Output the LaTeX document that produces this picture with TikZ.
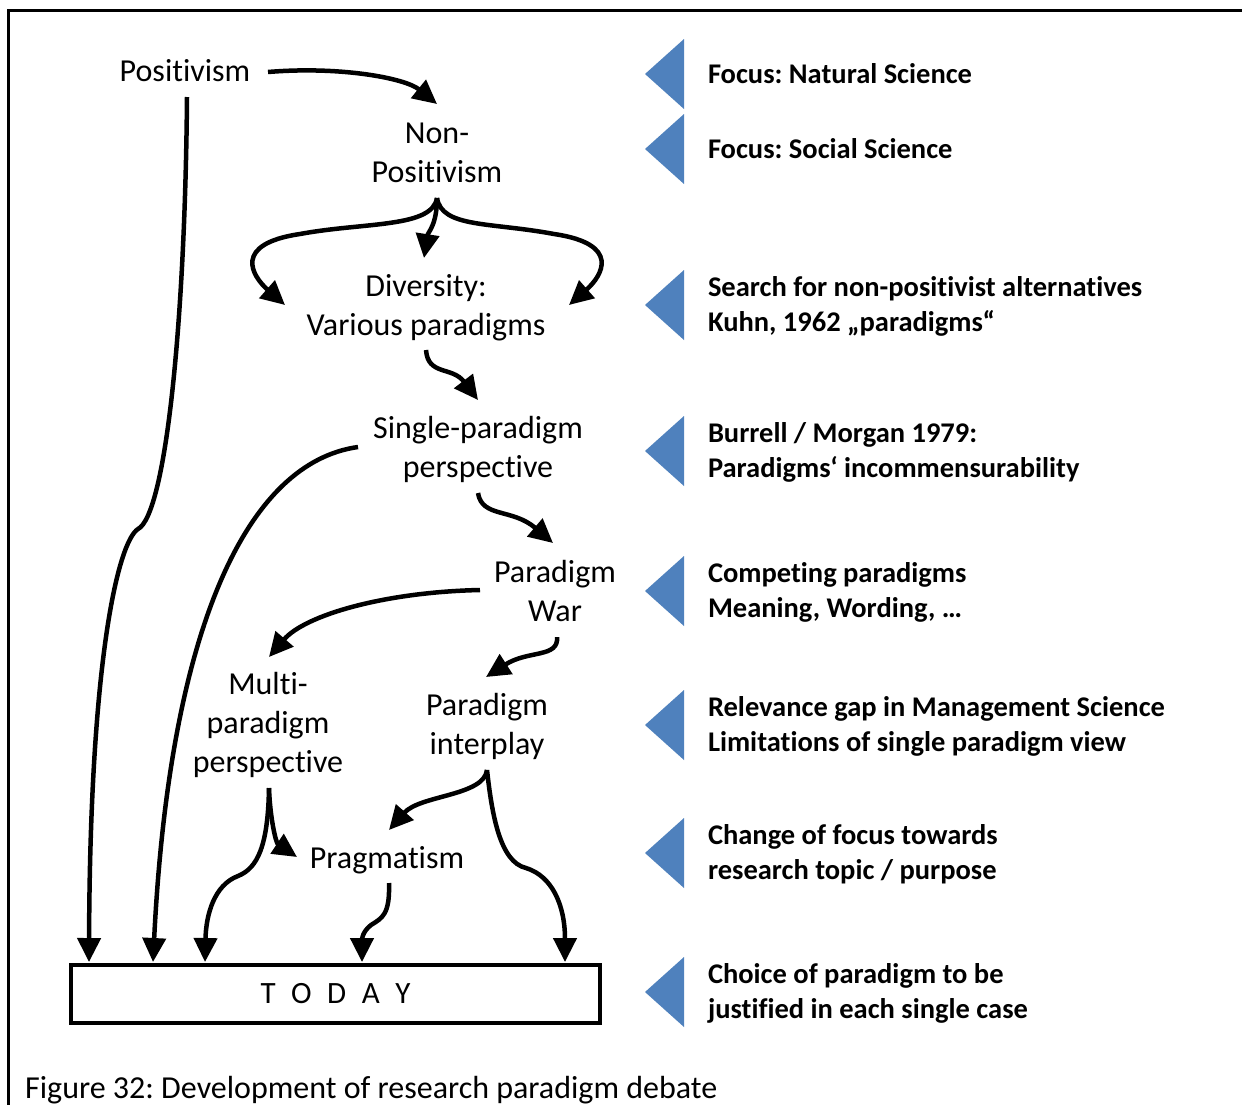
\documentclass[tikz,border=0pt]{standalone}
\usepackage{fontspec}
\setmainfont{Carlito}[Ligatures=NoCommon]
\usetikzlibrary{arrows.meta,calc}
\definecolor{markblue}{RGB}{79,129,189}
\frenchspacing
\begin{document}
\begin{tikzpicture}[x=1pt,y=-1pt,
  stage/.style={align=center,inner sep=0pt,outer sep=0pt,font=\fontsize{32}{39}\selectfont},
  note/.style={anchor=west,align=left,inner sep=0pt,outer sep=0pt,font=\bfseries\fontsize{28.5}{35}\selectfont},
  flow/.style={line width=4.5pt,-{Triangle[length=24pt,width=23pt]}},
  marker/.style={fill=markblue},
  frameline/.style={line width=3pt}]
\useasboundingbox (0,0) rectangle (1242,1104);

% outer frame (top and left edges only)
\draw[frameline] (8,1120) -- (8,10) -- (1260,10);

% stages of the debate
\node[stage] (pos)    at (185,73.5) {\strut Positivism\strut};
\node[stage] (nonpos) at (437,155)  {\strut Non-\\Positivism\strut};
\node[stage] (div)    at (426,308)  {\strut Diversity:\\Various paradigms\strut};
\node[stage] (single) at (478,450.5){\strut Single-paradigm\\perspective\strut};
\node[stage] (war)    at (555,594)  {\strut Paradigm\\War\strut};
\node[stage] (multi)  at (268,726)  {\strut Multi-\\paradigm\\perspective\strut};
\node[stage] (inter)  at (487,727)  {\strut Paradigm\\interplay\strut};
\node[stage] (prag)   at (387,860.5){\strut Pragmatism\strut};
\node[draw,line width=4.5pt,inner sep=0pt,outer sep=0pt,minimum width=529pt,minimum height=58pt]
  (today) at (335.5,994) {\fontsize{31}{37}\selectfont\spaceskip=15.5pt T O D A Y};

% branch points
\coordinate (nsplit) at ($(nonpos)+(0,43)$);
\coordinate (msplit) at ($(multi)+(1,62)$);
\coordinate (isplit) at ($(inter)+(0,43)$);

% connectors
\draw[flow] ($(pos)+(83,-1.5)$) .. controls (340,66) and (405,78) .. ($(nonpos)+(0,-51)$);
\draw[flow] ($(pos)+(2,23.5)$) .. controls (185,330) and (165,515) .. (138,529)
  .. controls (118,542) and (90,660) .. ($(today.north)+(-246.5,-3)$);

\draw[flow] (nsplit) .. controls (437,225) and (428,232) .. ($(div)+(-2,-50)$);
\draw[flow] (nsplit) .. controls (432,228) and (365,222) .. (300,234)
  .. controls (232,244) and (252,276) .. ($(div)+(-141,-3)$);
\draw[flow] (nsplit) .. controls (442,228) and (490,222) .. (554,234)
  .. controls (622,244) and (602,276) .. ($(div)+(143,-3)$);

\draw[flow] ($(div)+(0,42)$) .. controls (428,376) and (452,366) .. ($(single)+(0,-50.5)$);
\draw[flow] ($(single)+(-120,-3.5)$) .. controls (250,462) and (170,620) .. ($(today.north)+(-182.5,-3)$);
\draw[flow] ($(single)+(0,42.5)$) .. controls (482,518) and (512,508) .. ($(war)+(-2,-51)$);

\draw[flow] ($(war)+(-75,-4)$) .. controls (385,592) and (305,615) .. ($(multi)+(1,-69)$);
\draw[flow] ($(war)+(2,43)$) .. controls (559,658) and (528,650) .. ($(inter)+(-1,-50)$);

\draw[flow] (msplit) .. controls (270,818) and (276,843) .. ($(prag)+(-90,-3.5)$);
\draw[flow] (msplit) .. controls (268,845) and (258,868) .. (238,876)
  .. controls (214,885) and (206,915) .. ($(today.north)+(-130.5,-3)$);

\draw[flow] (isplit) .. controls (484,796) and (420,795) .. ($(prag)+(2,-30.5)$);
\draw[flow] (isplit) .. controls (492,815) and (500,862) .. (526,868)
  .. controls (552,876) and (565,905) .. ($(today.north)+(229.5,-3)$);

\draw[flow] ($(prag)+(2,22.5)$) .. controls (390,915) and (382,918) .. (371,925)
  .. controls (362,932) and (362,940) .. ($(today.north)+(26.5,-3)$);

% markers and notes
\foreach \c in {74,149,305,451,591,725,853,992}
  \fill[marker] (645,\c) -- (684,\c-35) -- (684,\c+35) -- cycle;

\node[note] (n1) at (708,76)  {\strut Focus: Natural Science\strut};
\node[note] (n2) at (708,151) {\strut Focus: Social Science\strut};
\node[note] (n3) at (708,307) {\strut Search for non-positivist alternatives\\Kuhn, 1962 „paradigms“\strut};
\node[note] (n4) at (708,453) {\strut Burrell / Morgan 1979:\\Paradigms‘ incommensurability\strut};
\node[note] (n5) at (708,593) {\strut Competing paradigms\\Meaning, Wording, …\strut};
\node[note] (n6) at (708,727) {\strut Relevance gap in Management Science\\Limitations of single paradigm view\strut};
\node[note] (n7) at (708,855) {\strut Change of focus towards\\research topic / purpose\strut};
\node[note] (n8) at (708,994) {\strut Choice of paradigm to be\\justified in each single case\strut};

% caption
\node[anchor=base west,inner sep=0pt,font=\fontsize{32}{39}\selectfont] (cap) at (25,1098)
  {Figure 32: Development of research paradigm debate};
\end{tikzpicture}
\end{document}
